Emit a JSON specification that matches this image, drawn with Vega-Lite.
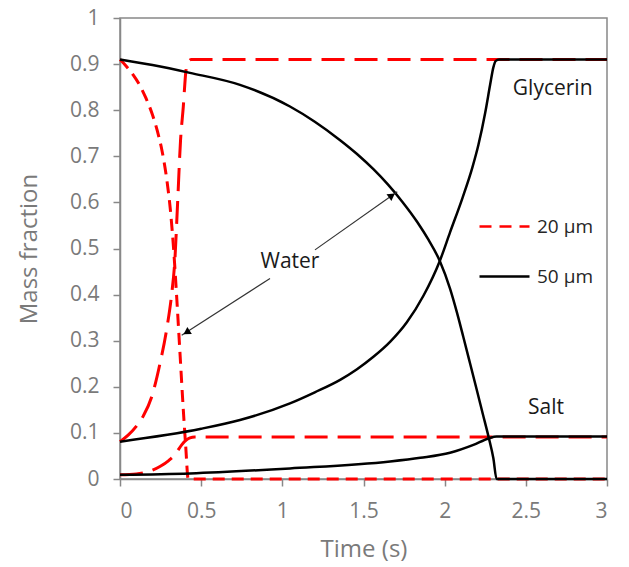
{
  "$schema": "https://vega.github.io/schema/vega-lite/v6.json",
  "width": 487,
  "height": 461,
  "autosize": "none",
  "padding": {"left": 120, "top": 18, "right": 22, "bottom": 88},
  "background": "white",
  "config": {
    "view": {"stroke": "#888888", "strokeWidth": 1.5},
    "font": "Open Sans",
    "axis": {
      "grid": false,
      "domainColor": "#888888",
      "domainWidth": 1.5,
      "tickColor": "#888888",
      "tickWidth": 1.5,
      "tickSize": 7,
      "labelColor": "#7a7a7a",
      "labelFont": "Open Sans",
      "labelFontSize": 21,
      "titleColor": "#7a7a7a",
      "titleFont": "Open Sans",
      "titleFontSize": 24,
      "titleFontWeight": "normal",
      "format": "~g"
    }
  },
  "datasets": {
    "curves": [
      {"size": "20 µm", "species": "Water", "t": 0, "v": 0.91},
      {"size": "20 µm", "species": "Water", "t": 0.04, "v": 0.895},
      {"size": "20 µm", "species": "Water", "t": 0.08, "v": 0.877},
      {"size": "20 µm", "species": "Water", "t": 0.12, "v": 0.855},
      {"size": "20 µm", "species": "Water", "t": 0.16, "v": 0.826},
      {"size": "20 µm", "species": "Water", "t": 0.2, "v": 0.79},
      {"size": "20 µm", "species": "Water", "t": 0.23, "v": 0.755},
      {"size": "20 µm", "species": "Water", "t": 0.26, "v": 0.71},
      {"size": "20 µm", "species": "Water", "t": 0.29, "v": 0.645},
      {"size": "20 µm", "species": "Water", "t": 0.31, "v": 0.585},
      {"size": "20 µm", "species": "Water", "t": 0.33, "v": 0.5},
      {"size": "20 µm", "species": "Water", "t": 0.35, "v": 0.39},
      {"size": "20 µm", "species": "Water", "t": 0.37, "v": 0.27},
      {"size": "20 µm", "species": "Water", "t": 0.39, "v": 0.15},
      {"size": "20 µm", "species": "Water", "t": 0.405, "v": 0.07},
      {"size": "20 µm", "species": "Water", "t": 0.42, "v": 0},
      {"size": "20 µm", "species": "Water", "t": 3, "v": 0},
      {"size": "20 µm", "species": "Glycerin", "t": 0, "v": 0.081},
      {"size": "20 µm", "species": "Glycerin", "t": 0.05, "v": 0.095},
      {"size": "20 µm", "species": "Glycerin", "t": 0.1, "v": 0.114},
      {"size": "20 µm", "species": "Glycerin", "t": 0.144, "v": 0.137},
      {"size": "20 µm", "species": "Glycerin", "t": 0.195, "v": 0.178},
      {"size": "20 µm", "species": "Glycerin", "t": 0.246, "v": 0.25},
      {"size": "20 µm", "species": "Glycerin", "t": 0.29, "v": 0.33},
      {"size": "20 µm", "species": "Glycerin", "t": 0.318, "v": 0.4},
      {"size": "20 µm", "species": "Glycerin", "t": 0.338, "v": 0.475},
      {"size": "20 µm", "species": "Glycerin", "t": 0.355, "v": 0.6},
      {"size": "20 µm", "species": "Glycerin", "t": 0.373, "v": 0.735},
      {"size": "20 µm", "species": "Glycerin", "t": 0.39, "v": 0.808},
      {"size": "20 µm", "species": "Glycerin", "t": 0.406, "v": 0.885},
      {"size": "20 µm", "species": "Glycerin", "t": 0.42, "v": 0.905},
      {"size": "20 µm", "species": "Glycerin", "t": 0.44, "v": 0.91},
      {"size": "20 µm", "species": "Glycerin", "t": 3, "v": 0.91},
      {"size": "20 µm", "species": "Salt", "t": 0, "v": 0.009},
      {"size": "20 µm", "species": "Salt", "t": 0.1, "v": 0.011},
      {"size": "20 µm", "species": "Salt", "t": 0.15, "v": 0.014},
      {"size": "20 µm", "species": "Salt", "t": 0.2, "v": 0.019},
      {"size": "20 µm", "species": "Salt", "t": 0.246, "v": 0.027},
      {"size": "20 µm", "species": "Salt", "t": 0.3, "v": 0.04},
      {"size": "20 µm", "species": "Salt", "t": 0.339, "v": 0.053},
      {"size": "20 µm", "species": "Salt", "t": 0.38, "v": 0.074},
      {"size": "20 µm", "species": "Salt", "t": 0.41, "v": 0.085},
      {"size": "20 µm", "species": "Salt", "t": 0.431, "v": 0.089},
      {"size": "20 µm", "species": "Salt", "t": 0.46, "v": 0.091},
      {"size": "20 µm", "species": "Salt", "t": 3, "v": 0.091},
      {"size": "50 µm", "species": "Water", "t": 0, "v": 0.91},
      {"size": "50 µm", "species": "Water", "t": 0.2, "v": 0.898},
      {"size": "50 µm", "species": "Water", "t": 0.431, "v": 0.881},
      {"size": "50 µm", "species": "Water", "t": 0.739, "v": 0.855},
      {"size": "50 µm", "species": "Water", "t": 1.047, "v": 0.808},
      {"size": "50 µm", "species": "Water", "t": 1.2, "v": 0.775},
      {"size": "50 µm", "species": "Water", "t": 1.356, "v": 0.735},
      {"size": "50 µm", "species": "Water", "t": 1.46, "v": 0.705},
      {"size": "50 µm", "species": "Water", "t": 1.561, "v": 0.672},
      {"size": "50 µm", "species": "Water", "t": 1.65, "v": 0.639},
      {"size": "50 µm", "species": "Water", "t": 1.74, "v": 0.601},
      {"size": "50 µm", "species": "Water", "t": 1.83, "v": 0.558},
      {"size": "50 µm", "species": "Water", "t": 1.9, "v": 0.519},
      {"size": "50 µm", "species": "Water", "t": 1.97, "v": 0.473},
      {"size": "50 µm", "species": "Water", "t": 2.033, "v": 0.413},
      {"size": "50 µm", "species": "Water", "t": 2.075, "v": 0.362},
      {"size": "50 µm", "species": "Water", "t": 2.115, "v": 0.308},
      {"size": "50 µm", "species": "Water", "t": 2.157, "v": 0.25},
      {"size": "50 µm", "species": "Water", "t": 2.198, "v": 0.193},
      {"size": "50 µm", "species": "Water", "t": 2.235, "v": 0.141},
      {"size": "50 µm", "species": "Water", "t": 2.27, "v": 0.092},
      {"size": "50 µm", "species": "Water", "t": 2.3, "v": 0.045},
      {"size": "50 µm", "species": "Water", "t": 2.32, "v": 0},
      {"size": "50 µm", "species": "Water", "t": 3, "v": 0},
      {"size": "50 µm", "species": "Glycerin", "t": 0, "v": 0.081},
      {"size": "50 µm", "species": "Glycerin", "t": 0.5, "v": 0.109},
      {"size": "50 µm", "species": "Glycerin", "t": 0.739, "v": 0.128},
      {"size": "50 µm", "species": "Glycerin", "t": 1.047, "v": 0.164},
      {"size": "50 µm", "species": "Glycerin", "t": 1.2, "v": 0.188},
      {"size": "50 µm", "species": "Glycerin", "t": 1.356, "v": 0.215},
      {"size": "50 µm", "species": "Glycerin", "t": 1.46, "v": 0.238},
      {"size": "50 µm", "species": "Glycerin", "t": 1.561, "v": 0.265},
      {"size": "50 µm", "species": "Glycerin", "t": 1.665, "v": 0.298},
      {"size": "50 µm", "species": "Glycerin", "t": 1.767, "v": 0.34},
      {"size": "50 µm", "species": "Glycerin", "t": 1.87, "v": 0.398},
      {"size": "50 µm", "species": "Glycerin", "t": 1.97, "v": 0.473},
      {"size": "50 µm", "species": "Glycerin", "t": 2.033, "v": 0.535},
      {"size": "50 µm", "species": "Glycerin", "t": 2.11, "v": 0.61},
      {"size": "50 µm", "species": "Glycerin", "t": 2.17, "v": 0.675},
      {"size": "50 µm", "species": "Glycerin", "t": 2.208, "v": 0.725},
      {"size": "50 µm", "species": "Glycerin", "t": 2.25, "v": 0.795},
      {"size": "50 µm", "species": "Glycerin", "t": 2.28, "v": 0.855},
      {"size": "50 µm", "species": "Glycerin", "t": 2.3, "v": 0.893},
      {"size": "50 µm", "species": "Glycerin", "t": 2.315, "v": 0.907},
      {"size": "50 µm", "species": "Glycerin", "t": 2.335, "v": 0.91},
      {"size": "50 µm", "species": "Glycerin", "t": 3, "v": 0.91},
      {"size": "50 µm", "species": "Salt", "t": 0, "v": 0.009},
      {"size": "50 µm", "species": "Salt", "t": 0.431, "v": 0.012},
      {"size": "50 µm", "species": "Salt", "t": 1.047, "v": 0.023},
      {"size": "50 µm", "species": "Salt", "t": 1.664, "v": 0.038},
      {"size": "50 µm", "species": "Salt", "t": 1.85, "v": 0.046},
      {"size": "50 µm", "species": "Salt", "t": 2.033, "v": 0.057},
      {"size": "50 µm", "species": "Salt", "t": 2.177, "v": 0.074},
      {"size": "50 µm", "species": "Salt", "t": 2.27, "v": 0.088},
      {"size": "50 µm", "species": "Salt", "t": 2.32, "v": 0.092},
      {"size": "50 µm", "species": "Salt", "t": 3, "v": 0.092}
    ],
    "arrows": [
      {"id": "up", "t": 1.201, "v": 0.497, "t2": 1.708, "v2": 0.623},
      {"id": "down", "t": 0.924, "v": 0.435, "t2": 0.38, "v2": 0.312}
    ],
    "heads": [
      {"id": "up", "t": 1.675, "v": 0.615},
      {"id": "down", "t": 0.41, "v": 0.318}
    ],
    "labels": [
      {"text": "Water", "t": 1.047, "v": 0.471, "align": "center"},
      {"text": "Glycerin", "t": 2.42, "v": 0.845, "align": "left"},
      {"text": "Salt", "t": 2.514, "v": 0.153, "align": "left"}
    ]
  },
  "layer": [
    {
      "data": {"name": "curves"},
      "transform": [{"filter": "datum.size === '20 µm' && datum.species === 'Water'"}],
      "mark": {"type": "line", "strokeWidth": 3, "strokeDash": [12, 7], "interpolate": "monotone"},
      "encoding": {
        "x": {"field": "t", "type": "quantitative", "scale": {"domain": [0, 3]}, "axis": {"title": "Time (s)", "tickCount": 6, "labelPadding": 14, "titlePadding": 16}},
        "y": {"field": "v", "type": "quantitative", "scale": {"domain": [0, 1]}, "axis": {"title": "Mass fraction", "tickCount": 10, "labelPadding": 14, "titlePadding": 28}},
        "color": {"field": "size", "type": "nominal", "scale": {"domain": ["20 µm", "50 µm"], "range": ["#ff0000", "#000000"]},
          "legend": {
            "title": null, "orient": "none", "legendX": 358, "legendY": 182,
            "symbolType": "stroke", "symbolSize": 2500, "symbolStrokeWidth": 2.5,
            "labelFont": "Open Sans", "labelFontSize": 19, "labelColor": "#262626", "labelOffset": 6, "rowPadding": 13,
            "encode": {"symbols": {"update": {
              "strokeDash": {"signal": "datum.value === '20 µm' ? [12, 8] : [1, 0]"},
              "stroke": {"signal": "datum.value === '20 µm' ? '#ff0000' : '#555555'"}
            }}}
          }},
        "detail": {"field": "species"}
      }
    },
    {
      "data": {"name": "curves"},
      "transform": [{"filter": "datum.size === '20 µm' && datum.species !== 'Water'"}],
      "mark": {"type": "line", "strokeWidth": 3, "strokeDash": [23, 10], "interpolate": "monotone"},
      "encoding": {
        "x": {"field": "t", "type": "quantitative"},
        "y": {"field": "v", "type": "quantitative"},
        "color": {"field": "size", "type": "nominal"},
        "detail": {"field": "species"}
      }
    },
    {
      "data": {"name": "curves"},
      "transform": [{"filter": "datum.size === '50 µm'"}],
      "mark": {"type": "line", "strokeWidth": 2.5, "interpolate": "monotone"},
      "encoding": {
        "x": {"field": "t", "type": "quantitative"},
        "y": {"field": "v", "type": "quantitative"},
        "color": {"field": "size", "type": "nominal"},
        "detail": {"field": "species"}
      }
    },
    {
      "data": {"name": "arrows"},
      "mark": {"type": "rule", "color": "#333333", "strokeWidth": 1.2},
      "encoding": {
        "x": {"field": "t", "type": "quantitative"},
        "y": {"field": "v", "type": "quantitative"},
        "x2": {"field": "t2"},
        "y2": {"field": "v2"}
      }
    },
    {
      "data": {"name": "heads"},
      "transform": [{"filter": "datum.id === 'up'"}],
      "mark": {"type": "point", "shape": "triangle-up", "filled": true, "color": "#000000", "size": 70, "angle": 54.5, "opacity": 1},
      "encoding": {
        "x": {"field": "t", "type": "quantitative"},
        "y": {"field": "v", "type": "quantitative"}
      }
    },
    {
      "data": {"name": "heads"},
      "transform": [{"filter": "datum.id === 'down'"}],
      "mark": {"type": "point", "shape": "triangle-up", "filled": true, "color": "#000000", "size": 70, "angle": 237.3, "opacity": 1},
      "encoding": {
        "x": {"field": "t", "type": "quantitative"},
        "y": {"field": "v", "type": "quantitative"}
      }
    },
    {
      "data": {"name": "labels"},
      "transform": [{"filter": "datum.align === 'center'"}],
      "mark": {"type": "text", "font": "Open Sans", "fontSize": 21, "color": "#1a1a1a", "align": "center", "baseline": "middle"},
      "encoding": {
        "x": {"field": "t", "type": "quantitative"},
        "y": {"field": "v", "type": "quantitative"},
        "text": {"field": "text"}
      }
    },
    {
      "data": {"name": "labels"},
      "transform": [{"filter": "datum.align === 'left'"}],
      "mark": {"type": "text", "font": "Open Sans", "fontSize": 21, "color": "#1a1a1a", "align": "left", "baseline": "middle"},
      "encoding": {
        "x": {"field": "t", "type": "quantitative"},
        "y": {"field": "v", "type": "quantitative"},
        "text": {"field": "text"}
      }
    }
  ]
}
